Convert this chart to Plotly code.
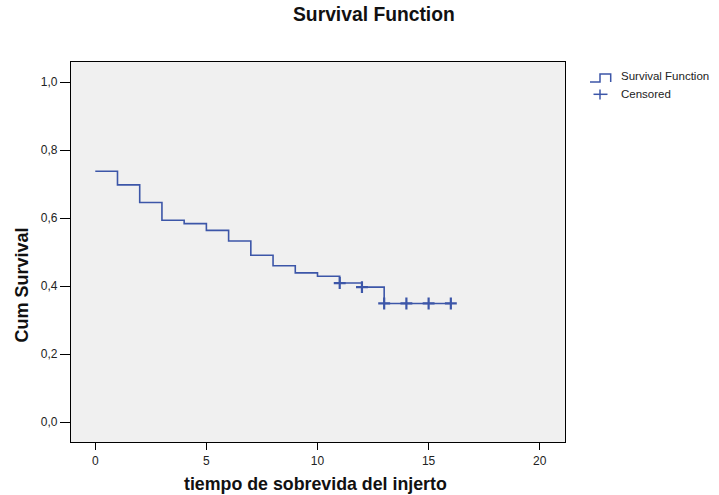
import plotly.graph_objects as go

# Kaplan-Meier estimate: survival level held from each time to the next
step_times = [0, 1, 2, 3, 4, 5, 6, 7, 8, 9, 10, 11, 12, 13, 16]
survival = [0.738, 0.698, 0.646, 0.594, 0.584, 0.564, 0.533, 0.491,
            0.460, 0.439, 0.429, 0.409, 0.397, 0.349, 0.349]

# Censored observations
censor_times = [11, 12, 13, 14, 15, 16]
censor_surv = [0.409, 0.397, 0.349, 0.349, 0.349, 0.349]

x_ticks = [0, 5, 10, 15, 20]
y_ticks = [0.0, 0.2, 0.4, 0.6, 0.8, 1.0]

LINE = "#3c56a8"
FONT = "Liberation Sans, Arial, sans-serif"

W, H = 719, 495
L, R, T, B = 71, 154, 62, 53

def px(xp):
    return (xp - L) / (W - L - R)

def py(yp):
    return (H - B - yp) / (H - T - B)

fig = go.Figure()
fig.add_trace(go.Scatter(
    x=step_times, y=survival, mode="lines", line_shape="hv",
    line=dict(color=LINE, width=1.6), hoverinfo="skip", showlegend=False))
fig.add_trace(go.Scatter(
    x=censor_times, y=censor_surv, mode="markers",
    marker=dict(symbol="cross-thin", size=8.5,
                line=dict(color=LINE, width=2.2)),
    hoverinfo="skip", showlegend=False, cliponaxis=False))

axis_common = dict(showline=True, mirror=True, linecolor="black", linewidth=1.2,
                   showgrid=False, zeroline=False, ticks="outside",
                   tickcolor="black", tickwidth=1.2,
                   tickfont=dict(family=FONT, size=12, color="#222"))

fig.update_xaxes(range=[-1.092, 21.137], tickvals=x_ticks, ticklen=7,
                 **axis_common)
fig.update_yaxes(range=[-0.0588, 1.0597], tickvals=y_ticks, ticklen=10,
                 tickformat=".1f", **axis_common)

shapes = [
    # legend icon: survival step
    dict(type="path", xref="paper", yref="paper",
         path=f"M {px(590)},{py(82)} L {px(600)},{py(82)} L {px(600)},{py(74)} "
              f"L {px(610.7)},{py(74)} L {px(610.7)},{py(82)}",
         line=dict(color=LINE, width=1.5)),
    # legend icon: censored cross
    dict(type="line", xref="paper", yref="paper",
         x0=px(593.5), x1=px(607.5), y0=py(94.3), y1=py(94.3),
         line=dict(color=LINE, width=1.5)),
    dict(type="line", xref="paper", yref="paper",
         x0=px(600), x1=px(600), y0=py(89.5), y1=py(99.5),
         line=dict(color=LINE, width=1.5)),
]

annotations = [
    dict(text="<b>Survival Function</b>", xref="paper", yref="paper",
         x=px(374), y=py(15), showarrow=False, xanchor="center", yanchor="middle",
         font=dict(family=FONT, size=19.3, color="#111")),
    dict(text="<b>tiempo de sobrevida del injerto</b>", xref="paper", yref="paper",
         x=px(315), y=py(484), showarrow=False, xanchor="center", yanchor="middle",
         font=dict(family=FONT, size=17.8, color="#111")),
    dict(text="<b>Cum Survival</b>", xref="paper", yref="paper",
         x=px(21.5), y=py(285), showarrow=False, xanchor="center", yanchor="middle",
         textangle=-90, font=dict(family=FONT, size=18, color="#111")),
    dict(text="Survival Function", xref="paper", yref="paper",
         x=px(619), y=py(75.5), showarrow=False, xanchor="left", yanchor="middle",
         font=dict(family=FONT, size=11.5, color="#222")),
    dict(text="Censored", xref="paper", yref="paper",
         x=px(619), y=py(94), showarrow=False, xanchor="left", yanchor="middle",
         font=dict(family=FONT, size=11.5, color="#222")),
]

fig.update_layout(
    width=W, height=H,
    margin=dict(l=L, r=R, t=T, b=B, pad=0),
    paper_bgcolor="white", plot_bgcolor="#f0f0f0",
    separators=",.",
    shapes=shapes, annotations=annotations,
    showlegend=False,
)

fig.write_html("out.html")
